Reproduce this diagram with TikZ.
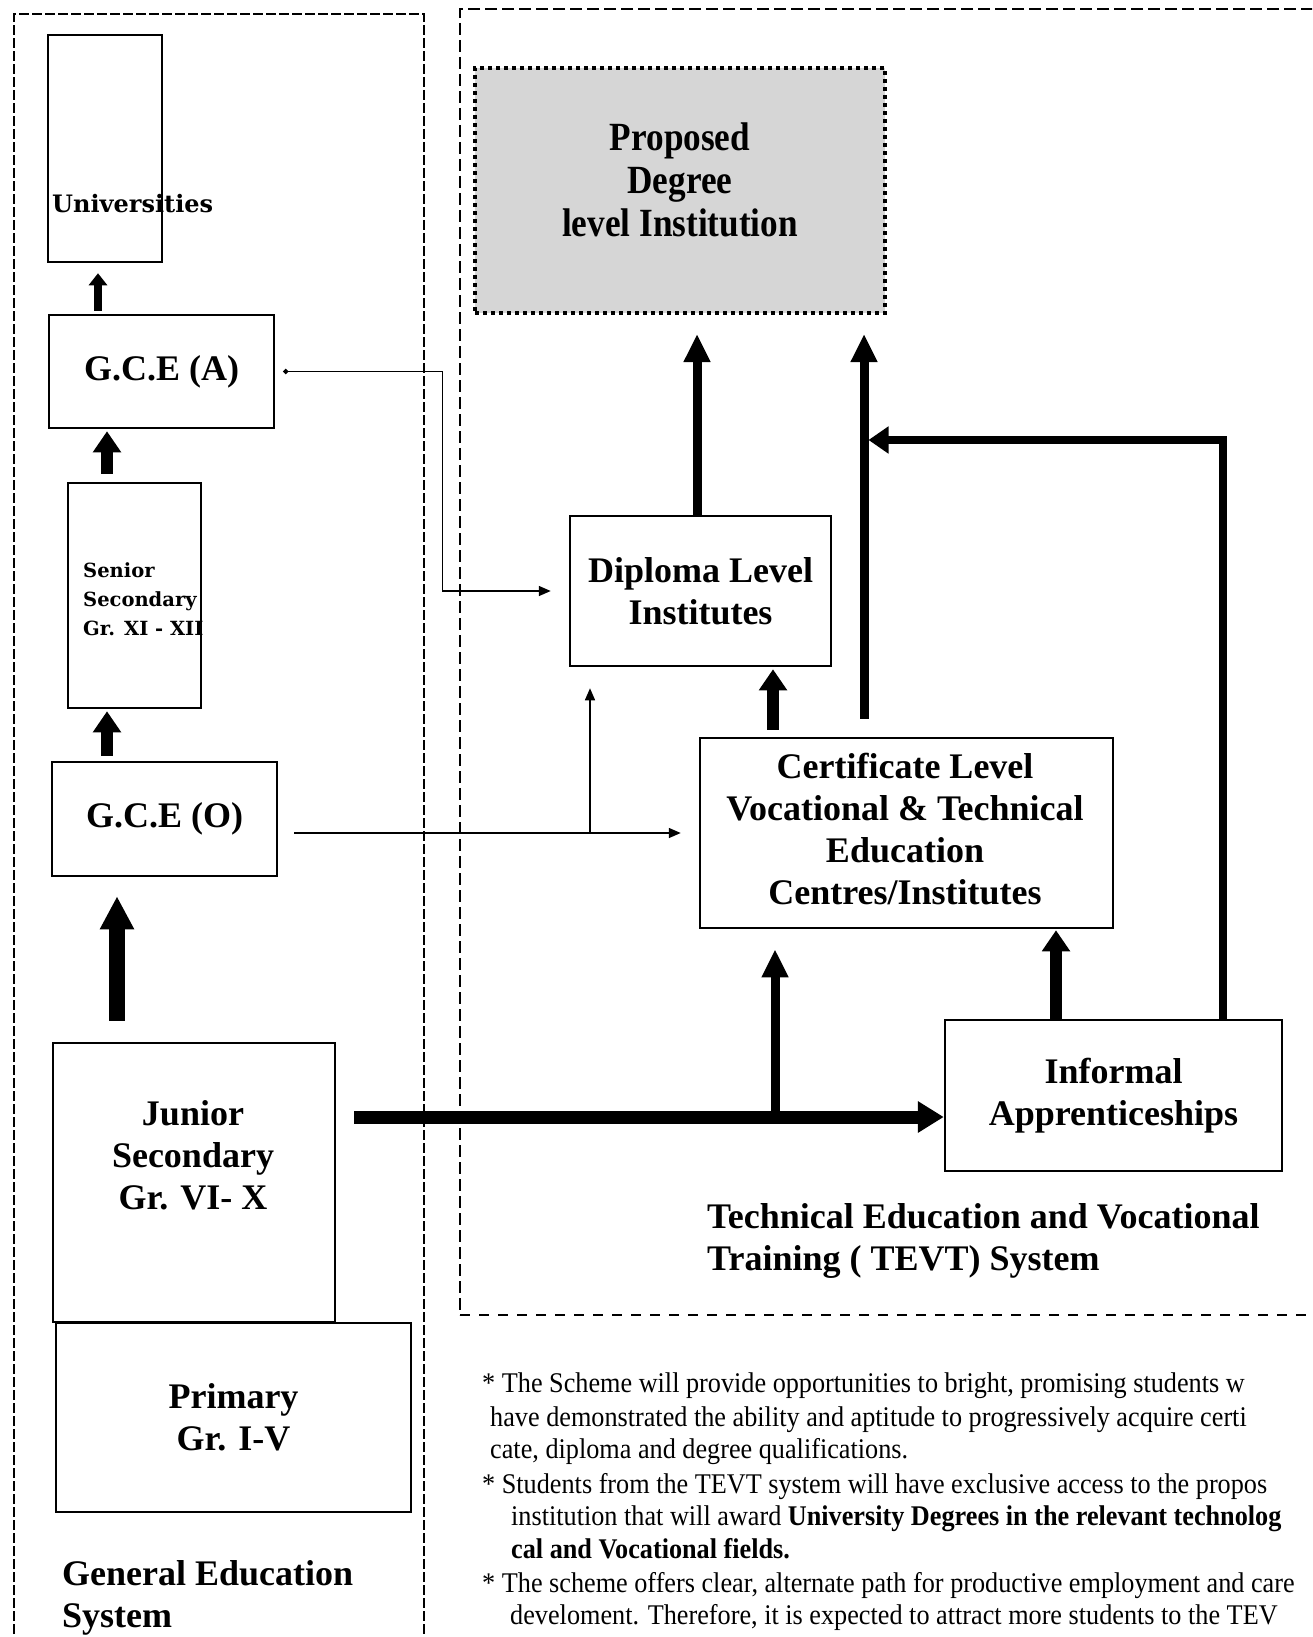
\documentclass[tikz,border=0pt]{standalone}
\usepackage{fontspec}
\setmainfont{Liberation Serif}
\newfontfamily\schoolfont{DejaVu Serif}
\newfontfamily\narrowfont[FakeStretch=0.88]{Liberation Serif}
\newfontfamily\notefont[FakeStretch=0.92]{Liberation Serif}
\usetikzlibrary{arrows.meta}

\newcommand{\boxtxt}{\fontsize{36}{42}\selectfont\bfseries}
\newcommand{\gcetxt}{\fontsize{36}{42}\selectfont\bfseries}
\newcommand{\univtxt}{\schoolfont\fontsize{24}{28}\selectfont\bfseries}
\newcommand{\seniortxt}{\schoolfont\fontsize{19.5}{29}\selectfont\bfseries}
\newcommand{\proptxt}{\narrowfont\fontsize{40}{43}\selectfont\bfseries}
\newcommand{\notetxt}{\notefont\fontsize{28.5}{33}\selectfont}

\begin{document}
\begin{tikzpicture}[
    x=1pt, y=-1pt,
    box/.style={draw, line width=2.5pt, inner sep=0pt, align=center},
    propbox/.style={draw, line width=4pt, dash pattern=on 4pt off 4pt, fill=black!16, inner sep=0pt},
    lbl/.style={inner sep=0pt},
    panel/.style={line width=1.5pt, dash pattern=on 10pt off 3pt},
    tevtline/.style={line width=1.5pt, dash pattern=on 12pt off 5pt},
    tevtbase/.style={line width=1.8pt, dash pattern=on 10pt off 9pt},
    upS/.style={line width=8pt, -{Triangle[length=12pt, width=18pt]}},
    upM/.style={line width=12pt, -{Triangle[length=21pt, width=27pt]}},
    upL/.style={line width=16pt, -{Triangle[length=33pt, width=32pt]}},
    flow/.style={line width=9pt, -{Triangle[length=28pt, width=25pt]}},
    flowL/.style={line width=13pt, -{Triangle[length=26pt, width=30pt]}},
    ret/.style={line width=8pt, -{Triangle[length=20pt, width=26pt]}},
    link/.style={line width=1.5pt, -{Triangle[length=12pt, width=10pt]}},
    linkdot/.style={line width=1.5pt, {Circle[length=5pt]}-{Triangle[length=12pt, width=10pt]}},
]
  \clip (0,0) rectangle (1312,1637);

  % panels
  \draw[panel]    (14,1660) -- (14,14) -- (424,14) -- (424,1660);
  \draw[tevtline] (1330,9) -- (460,9) -- (460,1315);
  \draw[tevtbase] (460,1315) -- (1330,1315);

  % columns and rows of the arrows
  \coordinate (colA) at (98,0);
  \coordinate (colB) at (107,0);
  \coordinate (colC) at (117,0);
  \coordinate (colD) at (697,0);
  \coordinate (colE) at (864,0);
  \coordinate (colF) at (773,0);
  \coordinate (colG) at (1056,0);
  \coordinate (colH) at (1223,0);
  \coordinate (colJ) at (775,0);
  \coordinate (colK) at (590,0);
  \coordinate (rowF) at (0,1117);
  \coordinate (rowR) at (0,440);

  % general education system
  \node[box, minimum width=114pt, minimum height=227pt]                (univ)     at (105,148.5)  {};
  \node[lbl, font=\univtxt, anchor=base west]                          (univ-t)   at (52,213)     {Universities};
  \node[box, font=\gcetxt, minimum width=225pt, minimum height=113pt]  (gcea)     at (161.5,371.5) {G.C.E (A)};
  \node[box, minimum width=133pt, minimum height=225pt]                (senior)   at (134.5,595.5) {};
  \node[lbl, font=\seniortxt, align=left, anchor=west]                 (senior-t) at (83,599)     {Senior\\Secondary\\Gr. XI - XII};
  \node[box, font=\gcetxt, minimum width=225pt, minimum height=114pt]  (gceo)     at (164.5,819)  {G.C.E (O)};
  \node[box, minimum width=282pt, minimum height=279pt]                (junior)   at (194,1182.5) {};
  \node[lbl, font=\boxtxt, align=center]                               (junior-t) at (193,1155)   {Junior\\Secondary\\Gr. VI- X};
  \node[box, font=\boxtxt, minimum width=355pt, minimum height=189pt]  (primary)  at (233.5,1417.5) {Primary\\Gr. I-V};
  \node[lbl, font=\boxtxt, align=left, anchor=north west]              (general)  at (62,1560.5)  {General Education\\System};

  % TEVT system
  \node[propbox, minimum width=410pt, minimum height=245pt]            (prop)     at (680,190.5)  {};
  \node[lbl, font=\proptxt, align=center]                              (prop-t)   at (680,180)    {Proposed\\Degree\\level Institution};
  \node[box, font=\boxtxt, minimum width=261pt, minimum height=150pt]  (dipl)     at (700.5,591)  {Diploma Level\\Institutes};
  \node[box, minimum width=413pt, minimum height=190pt]                (cert)     at (906.5,833)  {};
  \node[lbl, font=\boxtxt, align=center]                               (cert-t)   at (905,829)    {Certificate Level\\Vocational \& Technical\\Education\\Centres/Institutes};
  \node[box, font=\boxtxt, minimum width=337pt, minimum height=151pt]  (inf)      at (1113.5,1095.5) {Informal\\Apprenticeships};
  \node[lbl, font=\boxtxt, align=left, anchor=north west]              (tevt)     at (707,1203.5) {Technical Education and Vocational\\Training ( TEVT) System};

  % notes
  \foreach \x/\y/\t in {482/1392/{* The Scheme will provide opportunities to bright, promising students w},
                        490/1426/{have demonstrated the ability and aptitude to progressively acquire certi},
                        490/1458/{cate, diploma and degree qualifications.},
                        482/1493/{* Students from the TEVT system will have exclusive access to the propos},
                        511/1525/{institution that will award \textbf{University Degrees in the relevant technolog}},
                        511/1558/{\textbf{cal and Vocational fields.}},
                        482/1592/{* The scheme offers clear, alternate path for productive employment and care},
                        510/1624/{develoment. Therefore, it is expected to attract more students to the TEV}}
    \node[lbl, font=\notetxt, anchor=base west] (note-\y) at (\x,\y) {\t};

  % arrows, general education
  \draw[upS, shorten <=3pt, shorten >=10pt]  (colA |- gcea.north)   -- (colA |- univ.south);
  \draw[upM, shorten <=8pt, shorten >=2pt]   (colB |- senior.north) -- (colB |- gcea.south);
  \draw[upM, shorten <=5pt, shorten >=2pt]   (colB |- gceo.north)   -- (colB |- senior.south);
  \draw[upL, shorten <=21pt, shorten >=19pt] (colC |- junior.north) -- (colC |- gceo.south);

  % arrows, TEVT
  \draw[flow, shorten >=19pt]                (colD |- dipl.north)   -- (colD |- prop.south);
  \draw[flow, shorten <=18pt, shorten >=19pt] (colE |- cert.north)  -- (colE |- prop.south);
  \draw[ret, shorten >=4.5pt]                (colH |- inf.north)    |- (colE |- rowR);
  \draw[upM, shorten <=7pt, shorten >=2pt]   (colF |- cert.north)   -- (colF |- dipl.south);
  \draw[upM, shorten >=1pt]                  (colG |- inf.north)    -- (colG |- cert.south);
  \draw[flowL, shorten <=18pt]               (junior.east |- rowF)  -- (inf.west |- rowF);
  \draw[flow, shorten >=20pt]                (colJ |- rowF)         -- (colJ |- cert.south);

  % links across the systems
  \draw[linkdot, shorten <=8pt, shorten >=18pt] (gcea.east) -- ++(167,0) |- (dipl.west);
  \draw[link, shorten <=16pt, shorten >=18pt]   (gceo.east |- cert.west) -- (cert.west);
  \draw[link, shorten >=21pt]                   (colK |- cert.west) -- (colK |- dipl.south);
\end{tikzpicture}
\end{document}
